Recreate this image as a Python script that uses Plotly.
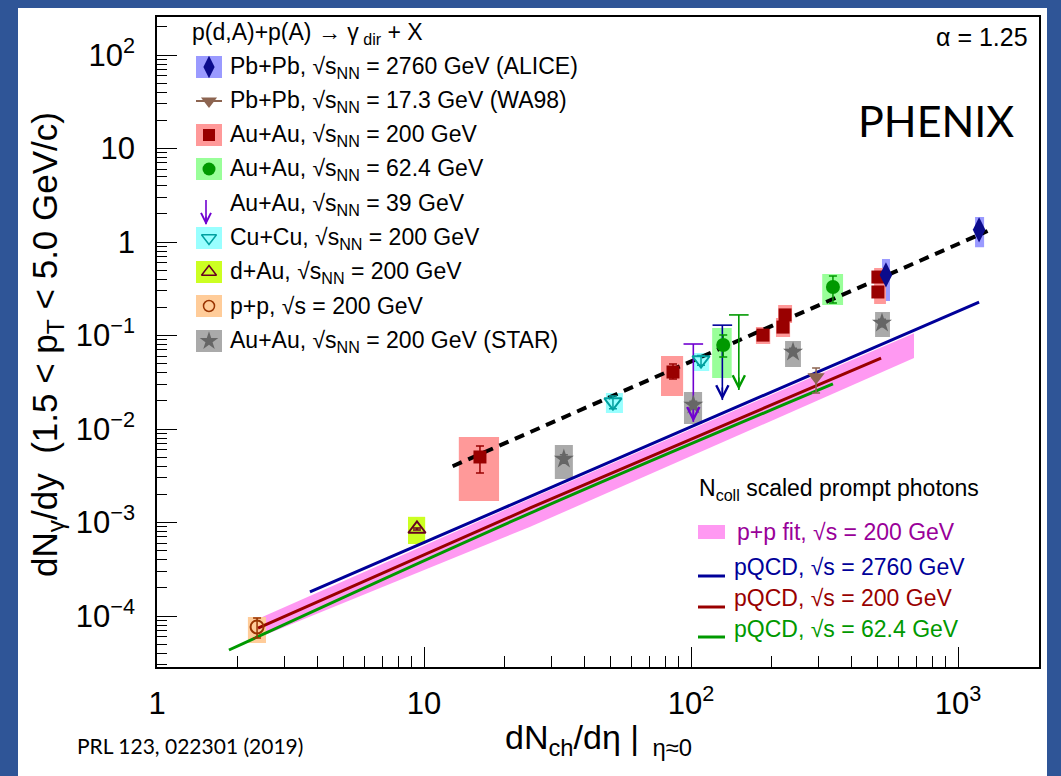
import numpy as np
import plotly.graph_objects as go

# ---------------- data: dN_gamma/dy vs dN_ch/deta ----------------
# PHENIX Au+Au 200 GeV
auau200_x = [16.2, 85.6, 186, 225, 221, 501, 501]
auau200_y = [0.00502, 0.0407, 0.101, 0.166, 0.123, 0.422, 0.292]
auau200_stat_lo = [0.00338, 0.0343, 0.095, 0.158, 0.116, 0.40, 0.27]
auau200_stat_hi = [0.00658, 0.0496, 0.107, 0.174, 0.130, 0.445, 0.315]
auau200_sx_lo = [13.5, 77.2, 175, 212, 208, 485, 485]
auau200_sx_hi = [19.1, 93.4, 198, 239, 235, 537, 537]
auau200_sy_lo = [0.00170, 0.0225, 0.0811, 0.136, 0.0964, 0.364, 0.217]
auau200_sy_hi = [0.0082, 0.0604, 0.123, 0.212, 0.154, 0.527, 0.364]

# ALICE Pb+Pb 2760 GeV
pbpb_x = [537, 1199]
pbpb_y = [0.444, 1.35]
pbpb_stat_lo = [0.41, 1.27]
pbpb_stat_hi = [0.48, 1.44]
pbpb_sx_lo = [519, 1158]
pbpb_sx_hi = [556, 1252]
pbpb_sy_lo = [0.234, 0.88]
pbpb_sy_hi = [0.658, 1.85]

# WA98 Pb+Pb 17.3 GeV
wa98_x = [294]
wa98_y = [0.036]
wa98_stat_lo = [0.0243]
wa98_stat_hi = [0.0449]

# PHENIX Au+Au 62.4 GeV
auau62_x = [132, 340]
auau62_y = [0.0791, 0.330]
auau62_stat_lo = [0.0589, 0.223]
auau62_stat_hi = [0.101, 0.433]
auau62_sx_lo = [120, 310]
auau62_sx_hi = [142, 371]
auau62_sy_lo = [0.0351, 0.212]
auau62_sy_hi = [0.120, 0.455]

# upper limits (x, top of limit, arrow tip)
auau62_ul_x = [151]
auau62_ul_top = [0.166]
auau62_ul_tip = [0.0261]
navy_ul_x = [131]
navy_ul_top = [0.129]
navy_ul_tip = [0.0204]
auau39_ul_x = [102]
auau39_ul_top = [0.0811]
auau39_ul_tip = [0.0119]

# PHENIX Cu+Cu 200 GeV
cucu_x = [109, 51.0]
cucu_y = [0.0547, 0.0194]
cucu_stat_lo = [0.048, 0.0165]
cucu_stat_hi = [0.061, 0.0225]
cucu_sx_lo = [102, 48.0]
cucu_sx_hi = [117, 55.6]
cucu_sy_lo = [0.0417, 0.0148]
cucu_sy_hi = [0.065, 0.0243]

# PHENIX d+Au 200 GeV
dau_x = [9.41]
dau_y = [8.52e-4]
dau_stat_lo = [8.3e-4]
dau_stat_hi = [8.75e-4]
dau_sx_lo = [8.71]
dau_sx_hi = [10.1]
dau_sy_lo = [5.89e-4]
dau_sy_hi = [1.15e-3]

# PHENIX p+p 200 GeV
pp_x = [2.37]
pp_y = [7.63e-5]
pp_stat_lo = [5.8e-5]
pp_stat_hi = [9.5e-5]
pp_sx_lo = [2.19]
pp_sx_hi = [2.56]
pp_sy_lo = [5.14e-5]
pp_sy_hi = [9.75e-5]

# STAR Au+Au 200 GeV
star_x = [33.4, 102, 241, 519]
star_y = [0.00478, 0.0181, 0.0666, 0.136]
star_stat_lo = [0.0043, 0.0165, 0.061, 0.124]
star_stat_hi = [0.0053, 0.0198, 0.073, 0.149]
star_sx_lo = [30.9, 94.1, 225, 489]
star_sx_hi = [36.1, 110, 258, 556]
star_sy_lo = [0.00292, 0.0113, 0.0461, 0.0964]
star_sy_hi = [0.00675, 0.0249, 0.0873, 0.178]

# power-law fit, alpha = 1.25
fit_x = [12.8, 1290]
fit_y = [0.0040, 1.31]

# Ncoll-scaled prompt photon references
ppfit_x = [2.43, 25, 684]
ppfit_lo = [5.96e-5, 9.0e-4, 0.0574]
ppfit_hi = [9.5e-5, 1.8e-3, 0.106]
pqcd2760_x = [3.74, 1199]
pqcd2760_y = [1.81e-4, 0.228]
pqcd200_x = [2.39, 25, 515]
pqcd200_y = [7.44e-5, 1.43e-3, 0.0574]
pqcd62_x = [1.86, 25, 340]
pqcd62_y = [4.33e-5, 1.26e-3, 0.0303]

# axis ticks
x_tickvals = [1, 10, 100, 1000]
x_ticktext = ["1", "10", "10<sup>2</sup>", "10<sup>3</sup>"]
y_tickvals = [1e-4, 1e-3, 1e-2, 1e-1, 1, 10, 100]
y_ticktext = ["10<sup>−4</sup>", "10<sup>−3</sup>", "10<sup>−2</sup>", "10<sup>−1</sup>",
              "1", "10", "10<sup>2</sup>"]

# ---------------- colours ----------------
BG_BLUE = "#2F5597"
C_ALICE, C_ALICE_BOX = "#0b0b8c", "#9a9aff"
C_WA98 = "#8c6450"
C_AU200, C_AU200_BOX = "#990000", "#ff9999"
C_AU62, C_AU62_BOX = "#009900", "#99ff99"
C_AU39 = "#7000d0"
C_NAVY = "#000099"
C_CU, C_CU_BOX = "#00a0a0", "#99ffff"
C_DAU, C_DAU_BOX = "#660022", "#ccff22"
C_PP, C_PP_BOX = "#993300", "#ffcc99"
C_STAR, C_STAR_BOX = "#666666", "#aaaaaa"
C_PINK = "#ff99f2"
C_PURPLE = "#990099"

FONT = "Liberation Sans, Arial, sans-serif"

# plot-frame geometry in pixels
W, H = 1061, 776
L, R, T, B = 157, 1039, 17, 667

fig = go.Figure()
shapes = []
annotations = []


def add_boxes(xlo, xhi, ylo, yhi, color):
    xs, ys = [], []
    for a, b, c, d in zip(xlo, xhi, ylo, yhi):
        xs += [a, b, b, a, a, None]
        ys += [c, c, d, d, c, None]
    fig.add_trace(go.Scatter(x=xs, y=ys, mode="none", fill="toself",
                             fillcolor=color, hoverinfo="skip", showlegend=False))


def add_points(x, y, lo, hi, symbol, color, size, lw=0):
    y_arr = np.array(y)
    fig.add_trace(go.Scatter(
        x=x, y=y, mode="markers", showlegend=False,
        marker=dict(symbol=symbol, color=color, size=size,
                    line=dict(color=color, width=lw)),
        error_y=dict(type="data", symmetric=False,
                     array=np.array(hi) - y_arr, arrayminus=y_arr - np.array(lo),
                     color=color, thickness=1.5, width=4)))


def add_limits(x, top, tip, color):
    for xi, t, b in zip(x, top, tip):
        fig.add_trace(go.Scatter(x=[xi, xi], y=[t, b], mode="lines",
                                 line=dict(color=color, width=1.6),
                                 hoverinfo="skip", showlegend=False))
        annotations.append(dict(x=np.log10(xi), y=np.log10(b), xref="x", yref="y",
                                ax=0, ay=-14, text="", showarrow=True, arrowhead=5,
                                arrowsize=1.5, arrowwidth=1.6, arrowcolor=color,
                                standoff=0))
    fig.add_trace(go.Scatter(x=x, y=top, mode="markers", showlegend=False,
                             marker=dict(symbol="line-ew", size=14,
                                         line=dict(color=color, width=1.6))))


# p+p fit band
fig.add_trace(go.Scatter(x=ppfit_x + ppfit_x[::-1], y=ppfit_lo + ppfit_hi[::-1],
                         mode="none", fill="toself", fillcolor=C_PINK,
                         hoverinfo="skip", showlegend=False))

# systematic boxes
add_boxes(pbpb_sx_lo, pbpb_sx_hi, pbpb_sy_lo, pbpb_sy_hi, C_ALICE_BOX)
add_boxes(auau200_sx_lo, auau200_sx_hi, auau200_sy_lo, auau200_sy_hi, C_AU200_BOX)
add_boxes(auau62_sx_lo, auau62_sx_hi, auau62_sy_lo, auau62_sy_hi, C_AU62_BOX)
add_boxes(cucu_sx_lo, cucu_sx_hi, cucu_sy_lo, cucu_sy_hi, C_CU_BOX)
add_boxes(dau_sx_lo, dau_sx_hi, dau_sy_lo, dau_sy_hi, C_DAU_BOX)
add_boxes(pp_sx_lo, pp_sx_hi, pp_sy_lo, pp_sy_hi, C_PP_BOX)
add_boxes(star_sx_lo, star_sx_hi, star_sy_lo, star_sy_hi, C_STAR_BOX)

# pQCD curves
for xs, ys, col in [(pqcd2760_x, pqcd2760_y, C_NAVY),
                    (pqcd200_x, pqcd200_y, C_AU200),
                    (pqcd62_x, pqcd62_y, C_AU62)]:
    fig.add_trace(go.Scatter(x=xs, y=ys, mode="lines", line=dict(color=col, width=3),
                             line_shape="spline", hoverinfo="skip", showlegend=False))

# alpha = 1.25 power-law fit
fig.add_trace(go.Scatter(x=fit_x, y=fit_y, mode="lines",
                         line=dict(color="black", width=4, dash="10px,7px"),
                         hoverinfo="skip", showlegend=False))

# upper limits
add_limits(auau39_ul_x, auau39_ul_top, auau39_ul_tip, C_AU39)
add_limits(navy_ul_x, navy_ul_top, navy_ul_tip, C_NAVY)
add_limits(auau62_ul_x, auau62_ul_top, auau62_ul_tip, C_AU62)

# data points with statistical errors
add_points(star_x, star_y, star_stat_lo, star_stat_hi, "star", C_STAR, 15)
add_points(pp_x, pp_y, pp_stat_lo, pp_stat_hi, "circle-open", C_PP, 13, 2)
add_points(dau_x, dau_y, dau_stat_lo, dau_stat_hi, "triangle-up-open", C_DAU, 15, 2)
add_points(cucu_x, cucu_y, cucu_stat_lo, cucu_stat_hi, "triangle-down-open", C_CU, 15, 2)
add_points(auau62_x, auau62_y, auau62_stat_lo, auau62_stat_hi, "circle", C_AU62, 14)
add_points(auau200_x, auau200_y, auau200_stat_lo, auau200_stat_hi, "square", C_AU200, 13)
add_points(wa98_x, wa98_y, wa98_stat_lo, wa98_stat_hi, "triangle-down", C_WA98, 15)
add_points(pbpb_x, pbpb_y, pbpb_stat_lo, pbpb_stat_hi, "diamond-tall", C_ALICE, 18)

# ---------------- legends (pixel overlay axes) ----------------
ov = dict(xref="x2", yref="y2")


def ltext(x, y, text, size=23, color="black", anchor="left", font=FONT):
    annotations.append(dict(x=x, y=y, text=text, showarrow=False, xanchor=anchor,
                            yanchor="middle", font=dict(family=font, size=size, color=color),
                            **ov))


SQ = "√s<sub>NN</sub>"
ltext(190, 33, "p(d,A)+p(A) → γ<sub> dir</sub> + X")
entries = [
    (67, C_ALICE_BOX, "diamond-tall", C_ALICE, 16, 0, f"Pb+Pb, {SQ} = 2760 GeV (ALICE)"),
    (101, None, "triangle-down", C_WA98, 14, 0, f"Pb+Pb, {SQ} = 17.3 GeV (WA98)"),
    (135, C_AU200_BOX, "square", C_AU200, 12, 0, f"Au+Au, {SQ} = 200 GeV"),
    (169, C_AU62_BOX, "circle", C_AU62, 13, 0, f"Au+Au, {SQ} = 62.4 GeV"),
    (204, None, None, None, 0, 0, f"Au+Au, {SQ} = 39 GeV"),
    (238, C_CU_BOX, "triangle-down-open", C_CU, 13, 1.5, f"Cu+Cu, {SQ} = 200 GeV"),
    (272, C_DAU_BOX, "triangle-up-open", C_DAU, 13, 1.5, f"d+Au, {SQ} = 200 GeV"),
    (306, C_PP_BOX, "circle-open", C_PP, 11, 1.5, "p+p, √s = 200 GeV"),
    (341, C_STAR_BOX, "star", C_STAR, 14, 0, f"Au+Au, {SQ} = 200 GeV (STAR)"),
]
for y, box, sym, col, sz, lw, label in entries:
    if box:
        shapes.append(dict(type="rect", x0=196, x1=222, y0=y - 11, y1=y + 11,
                           fillcolor=box, line=dict(width=0), layer="below", **ov))
    if sym:
        if box is None:
            fig.add_trace(go.Scatter(x=[196, 222], y=[y, y], mode="lines",
                                     line=dict(color=col, width=2), xaxis="x2",
                                     yaxis="y2", hoverinfo="skip", showlegend=False))
        fig.add_trace(go.Scatter(x=[209], y=[y], mode="markers", xaxis="x2", yaxis="y2",
                                 marker=dict(symbol=sym, size=sz, color=col,
                                             line=dict(color=col, width=lw)),
                                 hoverinfo="skip", showlegend=False))
    ltext(228, y, label)

# 39 GeV legend arrow
fig.add_trace(go.Scatter(x=[206, 206], y=[200, 224], mode="lines", xaxis="x2", yaxis="y2",
                         line=dict(color=C_AU39, width=1.6), hoverinfo="skip",
                         showlegend=False))
annotations.append(dict(x=206, y=225, ax=0, ay=-10, text="", showarrow=True, arrowhead=5,
                        arrowsize=1.3, arrowwidth=1.5, arrowcolor=C_AU39, standoff=0, **ov))

# Ncoll-scaled prompt photon legend
ltext(697, 489, "N<sub>coll</sub> scaled prompt photons", size=23)
shapes.append(dict(type="rect", x0=698, x1=725, y0=525, y1=539, fillcolor=C_PINK,
                   line=dict(width=0), layer="below", **ov))
ltext(735, 532, "p+p fit, √s = 200 GeV", size=23, color=C_PURPLE)
for ly, ty, col, label in [(576, 567, C_NAVY, "pQCD, √s = 2760 GeV"),
                           (607, 598, C_AU200, "pQCD, √s = 200 GeV"),
                           (637, 629, C_AU62, "pQCD, √s = 62.4 GeV")]:
    fig.add_trace(go.Scatter(x=[698, 725], y=[ly, ly], mode="lines", xaxis="x2",
                             yaxis="y2", line=dict(color=col, width=3),
                             hoverinfo="skip", showlegend=False))
    ltext(732, ty, label, size=23, color=col)

ltext(1030, 37, "α = 1.25", size=25, anchor="right")
ltext(1016, 120, "PHENIX", size=43, anchor="right", font="Lato, Open Sans, sans-serif")


# ---------------- text outside the frame (paper coords) ----------------
def px(X):
    return (X - L) / (R - L)


def py(Y):
    return (B - Y) / (B - T)


annotations.append(dict(x=px(47), y=py(345), xref="paper", yref="paper", textangle=-90,
                        text="dN<sub>γ</sub>/dy  (1.5 &lt; p<sub>T</sub> &lt; 5.0 GeV/c)",
                        showarrow=False, xanchor="center", yanchor="middle",
                        font=dict(family=FONT, size=35, color="black")))
annotations.append(dict(x=px(598), y=py(739), xref="paper", yref="paper",
                        text="dN<sub>ch</sub>/dη |<sub>  η≈0</sub>",
                        showarrow=False, xanchor="center", yanchor="middle",
                        font=dict(family=FONT, size=34, color="black")))
annotations.append(dict(x=px(75), y=py(745), xref="paper", yref="paper",
                        text="PRL 123, 022301 (2019)", showarrow=False,
                        xanchor="left", yanchor="middle",
                        font=dict(family="Lato, sans-serif", size=21, color="black")))

# blue slide frame around a white page
shapes.insert(0, dict(type="rect", xref="paper", yref="paper",
                      x0=px(18), x1=px(1047), y0=py(776), y1=py(8),
                      fillcolor="white", line=dict(width=0), layer="below"))

x_minor = [m * d for d in (1, 10, 100, 1000) for m in range(2, 10)]
y_minor = [m * d for d in (1e-5, 1e-4, 1e-3, 1e-2, 1e-1, 1, 10, 100) for m in range(2, 10)]

fig.update_layout(
    width=W, height=H,
    margin=dict(l=L, r=W - R, t=T, b=H - B, pad=0),
    paper_bgcolor=BG_BLUE, plot_bgcolor="white",
    showlegend=False,
    shapes=shapes, annotations=annotations,
    xaxis=dict(type="log", range=[0, np.log10(2010)], tickmode="array",
               tickvals=x_tickvals, ticktext=x_ticktext, ticks="inside", ticklen=20,
               tickwidth=1.3, tickcolor="black", showgrid=False, zeroline=False,
               showline=True, linecolor="black", linewidth=1.5, mirror=True,
               ticklabelstandoff=8,
               tickfont=dict(family=FONT, size=31, color="black"),
               minor=dict(tickmode="array", tickvals=x_minor, ticks="inside", ticklen=11,
                          tickwidth=1.2, tickcolor="black", showgrid=False)),
    yaxis=dict(type="log", range=[(242 - B) / 93.5, (242 - T) / 93.5], tickmode="array",
               tickvals=y_tickvals, ticktext=y_ticktext, ticks="inside", ticklen=20,
               tickwidth=1.3, tickcolor="black", showgrid=False, zeroline=False,
               showline=True, linecolor="black", linewidth=1.5, mirror=True,
               ticklabelstandoff=14,
               tickfont=dict(family=FONT, size=31, color="black"),
               minor=dict(tickmode="array", tickvals=y_minor, ticks="inside", ticklen=10,
                          tickwidth=1.2, tickcolor="black", showgrid=False)),
    xaxis2=dict(overlaying="x", anchor="y2", range=[L, R], visible=False),
    yaxis2=dict(overlaying="y", anchor="x2", range=[B, T], visible=False),
)

fig.write_html("out.html")
